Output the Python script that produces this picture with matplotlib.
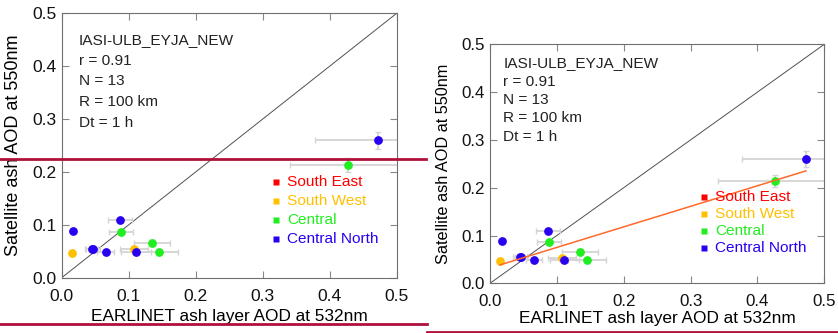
import numpy as np
import matplotlib
matplotlib.use("Agg")
import matplotlib.pyplot as plt
from matplotlib.lines import Line2D

plt.rcParams['font.family'] = ['Liberation Sans', 'DejaVu Sans']

# region names and colours
regions = ["South East", "South West", "Central", "Central North"]
region_colors = ["#ff0000", "#ffc000", "#20ee20", "#2a00f0"]

# EARLINET AOD (x), satellite AOD (y), x/y uncertainty, per region
x_se, y_se, xe_se, ye_se = [], [], [], []
x_sw = [0.0149, 0.108]
y_sw = [0.046, 0.0537]
xe_sw = [0.0, 0.021]
ye_sw = [0.004, 0.004]
x_c = [0.427, 0.0885, 0.135, 0.145]
y_c = [0.2137, 0.0858, 0.066, 0.048]
xe_c = [0.086, 0.018, 0.027, 0.029]
ye_c = [0.013, 0.004, 0.005, 0.004]
x_cn = [0.4726, 0.087, 0.0173, 0.111, 0.0448, 0.047, 0.0657]
y_cn = [0.260, 0.109, 0.088, 0.049, 0.054, 0.054, 0.048]
xe_cn = [0.095, 0.0175, 0.0, 0.022, 0.01, 0.01, 0.0125]
ye_cn = [0.016, 0.004, 0.003, 0.004, 0.003, 0.003, 0.004]

stats = ["IASI-ULB_EYJA_NEW", "r = 0.91", "N = 13", "R = 100 km", "Dt = 1 h"]
ticks = [0.0, 0.1, 0.2, 0.3, 0.4, 0.5]

series = [
    (x_se, y_se, xe_se, ye_se),
    (x_sw, y_sw, xe_sw, ye_sw),
    (x_c, y_c, xe_c, ye_c),
    (x_cn, y_cn, xe_cn, ye_cn),
]

W, H = 838, 333
fig = plt.figure(figsize=(W / 100, H / 100), dpi=100)


def panel(rect, text_x, text_y, text_dy, tick_fs, ylab_fs, fit=False):
    ax = fig.add_axes(rect)
    ax.set_xlim(0, 0.5)
    ax.set_ylim(0, 0.5)
    ax.plot([0, 0.5], [0, 0.5], color="#505050", lw=0.7, zorder=1)

    for (xs, ys, xe, ye), col in zip(series, region_colors):
        if not xs:
            continue
        ax.errorbar(xs, ys, xerr=xe, yerr=ye, fmt="none", ecolor="#d4d4d4",
                    elinewidth=1.3, capsize=2, capthick=1.0, zorder=2)
        ax.plot(xs, ys, "o", color=col, ms=6.3, mec="none", zorder=3)

    if fit:
        xa = np.array(x_sw + x_c + x_cn)
        ya = np.array(y_sw + y_c + y_cn)
        k, b = np.polyfit(xa, ya, 1)
        xx = np.array([xa.min(), xa.max()])
        ax.plot(xx, k * xx + b, color="#ff6a2a", lw=1.1, zorder=4)

    # legend as coloured squares + coloured text
    for i, (name, col) in enumerate(zip(regions, region_colors)):
        yy = 0.181 - i * 0.0357
        ax.plot(0.32, yy, "s", color=col, ms=4.5, mec="none", zorder=5)
        ax.text(0.3365, yy, name, color=col, fontsize=11.1, va="center",
                ha="left", zorder=5)

    for i, s in enumerate(stats):
        ax.text(text_x, text_y - i * text_dy, s, transform=ax.transAxes,
                fontsize=11.1, va="center", ha="left", color="#222222")

    ax.set_xticks(ticks)
    ax.set_yticks(ticks)
    ax.set_xticklabels([f"{t:.1f}" for t in ticks])
    ax.set_yticklabels([f"{t:.1f}" for t in ticks])
    ax.tick_params(direction="in", length=5, width=0.8, color="#888888",
                   top=True, right=True, labelsize=tick_fs, colors="#888888",
                   labelcolor="#111111")
    ax.tick_params(axis="x", pad=8)
    ax.tick_params(axis="y", pad=4)
    for sp in ax.spines.values():
        sp.set_color("#707070")
        sp.set_linewidth(0.8)

    ax.set_xlabel("EARLINET ash layer AOD at 532nm", fontsize=12.4, va="center")
    ax.set_ylabel("Satellite ash AOD at 550nm", fontsize=ylab_fs, va="center")
    return ax


ax1 = panel([61.7 / W, 1 - 277.7 / H, 335 / W, 264.4 / H],
            0.052, 0.899, 0.0783, 12.6, 13.0)
ax1.xaxis.set_label_coords(0.5, -0.1475)
ax1.yaxis.set_label_coords(-0.1445, 0.5)

ax2 = panel([490 / W, 1 - 283.3 / H, 334.3 / W, 239 / H],
            0.040, 0.9205, 0.0766, 12.2, 11.7, fit=True)
ax2.xaxis.set_label_coords(0.5, -0.146)
ax2.yaxis.set_label_coords(-0.1397, 0.5)

# dark red separator lines over the figure
red = "#b0103a"
for (x0, x1, y) in [(0, 426, 159), (0, 427, 323.5), (427, 838, 331.5)]:
    fig.add_artist(Line2D([x0 / W, x1 / W], [1 - y / H, 1 - y / H],
                          color=red, lw=2.0, transform=fig.transFigure))

fig.savefig("out.png", dpi=100)
